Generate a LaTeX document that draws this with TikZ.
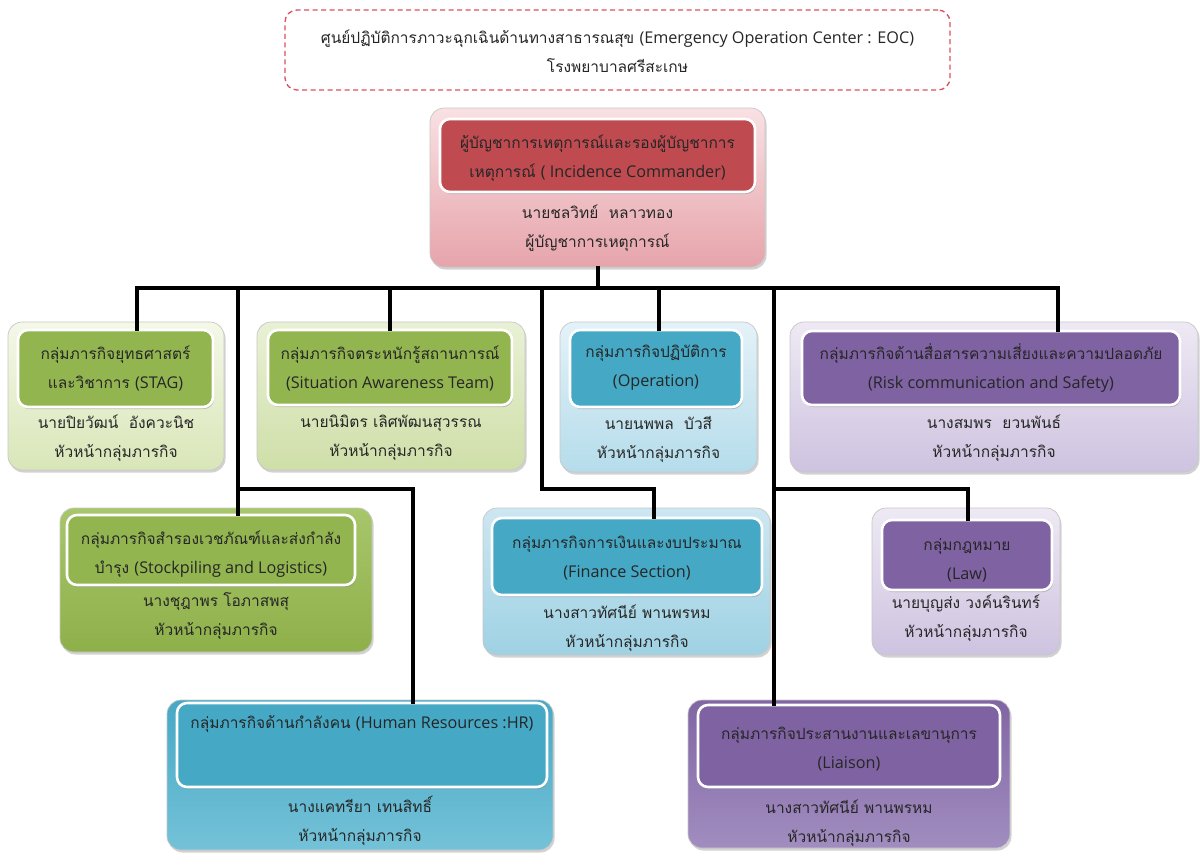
\documentclass[tikz,border=0pt]{standalone}
\usepackage{fontspec}
\setmainfont{Loma}[Script=Thai]
\newfontfamily\enfont{Open Sans}
\newcommand\engtxt[1]{{\enfont\fontsize{16.2pt}{29pt}\selectfont #1}}
\usetikzlibrary{shadows}

% fills of the group boxes
\definecolor{redIn}{HTML}{BF4B50}
\definecolor{redTop}{HTML}{F9E1E3}
\definecolor{redBot}{HTML}{E6A4AB}
\definecolor{grnIn}{HTML}{93B550}
\definecolor{grnPaleTop}{HTML}{F4F8E8}
\definecolor{grnPaleBot}{HTML}{D9E6B8}
\definecolor{grnTop}{HTML}{A8C66A}
\definecolor{grnBot}{HTML}{8EB04A}
\definecolor{bluIn}{HTML}{45A8C5}
\definecolor{bluPaleTop}{HTML}{E4F2F8}
\definecolor{bluPaleBot}{HTML}{B5DCEB}
\definecolor{bluTop}{HTML}{47A8C5}
\definecolor{bluBot}{HTML}{74C2D8}
\definecolor{prpIn}{HTML}{7F62A1}
\definecolor{prpPaleTop}{HTML}{EEE9F4}
\definecolor{prpPaleBot}{HTML}{CEC3E0}
\definecolor{prpTop}{HTML}{8165A4}
\definecolor{prpBot}{HTML}{A18DBF}
\definecolor{dashRed}{HTML}{D9505F}

\begin{document}
\begin{tikzpicture}[x=1pt,y=-1pt,
  font=\fontsize{15.5pt}{29pt}\selectfont,
  obox/.style={rounded corners=14pt, draw=black!22, line width=0.7pt, inner sep=0pt,
    drop shadow={shadow xshift=1.5pt, shadow yshift=-2.5pt, opacity=0.35}},
  ibox/.style={rounded corners=10pt, draw=white, line width=2.6pt, inner sep=0pt,
    drop shadow={shadow xshift=1pt, shadow yshift=-2pt, opacity=0.45}},
  txt/.style={align=center, text=black!85, inner sep=0pt},
  wire/.style={line width=3.6pt, line cap=rect},
  titlebox/.style={rounded corners=12pt, draw=dashRed, line width=1.3pt,
    dash pattern=on 5pt off 3.5pt, inner sep=0pt}
]
\useasboundingbox[fill=white] (0,0) rectangle (1200,852);

% heading
\node[titlebox, minimum width=665pt, minimum height=80pt] (title) at (617.5,50) {};
\node[txt] (titleT) at (617.5,51) {ศูนย์ปฏิบัติการภาวะฉุกเฉินด้านทางสาธารณสุข \engtxt{(Emergency Operation Center : EOC)}\\โรงพยาบาลศรีสะเกษ};

% commander
\node[obox, top color=redTop, bottom color=redBot, minimum width=335pt, minimum height=159pt] (cmd) at (597.5,187.5) {};
\node[ibox, fill=redIn, minimum width=315pt, minimum height=73pt] (cmdT) at (597.5,155.5) {};
\node[txt] (cmdL) at (597.5,158) {ผู้บัญชาการเหตุการณ์และรองผู้บัญชาการ\\เหตุการณ์ \engtxt{( Incidence Commander)}};
\node[txt] (cmdN) at (597.5,228) {นายชลวิทย์~~หลาวทอง\\ผู้บัญชาการเหตุการณ์};

% STAG
\node[obox, top color=grnPaleTop, bottom color=grnPaleBot, minimum width=216pt, minimum height=148pt] (stag) at (116,396) {};
\node[ibox, fill=grnIn, minimum width=195pt, minimum height=77pt] (stagT) at (115.5,368.5) {};
\node[txt] (stagL) at (115.5,368) {กลุ่มภารกิจยุทธศาสตร์\\และวิชาการ \engtxt{(STAG)}};
\node[txt] (stagN) at (116,438) {นายปิยวัฒน์~~อังควะนิช\\หัวหน้ากลุ่มภารกิจ};

% situation awareness
\node[obox, top color=grnPaleTop!60!grnPaleBot, bottom color=grnPaleBot!85!grnIn, minimum width=268pt, minimum height=148pt] (sit) at (391,396) {};
\node[ibox, fill=grnIn, minimum width=244pt, minimum height=75pt] (sitT) at (390,367.5) {};
\node[txt] (sitL) at (390,368) {กลุ่มภารกิจตระหนักรู้สถานการณ์\\\engtxt{(Situation Awareness Team)}};
\node[txt] (sitN) at (391,438) {นายนิมิตร เลิศพัฒนสุวรรณ\\หัวหน้ากลุ่มภารกิจ};

% operation
\node[obox, top color=bluPaleTop, bottom color=bluPaleBot, minimum width=197pt, minimum height=150pt] (op) at (658.5,397) {};
\node[ibox, fill=bluIn, minimum width=172pt, minimum height=77pt] (opT) at (656,368.5) {};
\node[txt] (opL) at (656,368) {กลุ่มภารกิจปฏิบัติการ\\\engtxt{(Operation)}};
\node[txt] (opN) at (658.5,439) {นายนพพล~~บัวสี\\หัวหน้ากลุ่มภารกิจ};

% risk communication
\node[obox, top color=prpPaleTop, bottom color=prpPaleBot, minimum width=408pt, minimum height=150pt] (risk) at (994,397) {};
\node[ibox, fill=prpIn, minimum width=378pt, minimum height=74pt] (riskT) at (991,368) {};
\node[txt] (riskL) at (991,368) {กลุ่มภารกิจด้านสื่อสารความเสี่ยงและความปลอดภัย\\\engtxt{(Risk communication and Safety)}};
\node[txt] (riskN) at (994,438) {นางสมพร~~ยวนพันธ์\\หัวหน้ากลุ่มภารกิจ};

% stockpiling
\node[obox, top color=grnTop, bottom color=grnBot, minimum width=312pt, minimum height=144pt] (stock) at (216,580) {};
\node[ibox, fill=grnIn, minimum width=288pt, minimum height=70pt] (stockT) at (211,550) {};
\node[txt] (stockL) at (211,554) {กลุ่มภารกิจสำรองเวชภัณฑ์และส่งกำลัง\\บำรุง \engtxt{(Stockpiling and Logistics)}};
\node[txt] (stockN) at (216,616) {นางชุฎาพร โอภาสพสุ\\หัวหน้ากลุ่มภารกิจ};

% finance
\node[obox, top color=bluPaleTop!50!bluPaleBot, bottom color=bluPaleBot!80!bluIn, minimum width=287pt, minimum height=147pt] (fin) at (626.5,581.5) {};
\node[ibox, fill=bluIn, minimum width=270pt, minimum height=77pt] (finT) at (627,556.5) {};
\node[txt] (finL) at (627,558) {กลุ่มภารกิจการเงินและงบประมาณ\\\engtxt{(Finance Section)}};
\node[txt] (finN) at (627,628) {นางสาวทัศนีย์ พานพรหม\\หัวหน้ากลุ่มภารกิจ};

% law
\node[obox, top color=prpPaleTop, bottom color=prpPaleBot, minimum width=188pt, minimum height=147pt] (law) at (966,581.5) {};
\node[ibox, fill=prpIn, minimum width=170pt, minimum height=70pt] (lawT) at (967,555) {};
\node[txt] (lawL) at (967,560) {กลุ่มกฎหมาย\\\engtxt{(Law)}};
\node[txt] (lawN) at (966,618) {นายบุญส่ง วงค์นรินทร์\\หัวหน้ากลุ่มภารกิจ};

% human resources
\node[obox, top color=bluTop, bottom color=bluBot, minimum width=386pt, minimum height=150pt] (hr) at (360,775) {};
\node[ibox, fill=bluIn, minimum width=370pt, minimum height=84pt] (hrT) at (362,745) {};
\node[txt] (hrL) at (362,724) {กลุ่มภารกิจด้านกำลังคน \engtxt{(Human Resources :HR)}};
\node[txt] (hrN) at (360,821) {นางแคทรียา เทนสิทธิ์\\หัวหน้ากลุ่มภารกิจ};

% liaison
\node[obox, top color=prpTop, bottom color=prpBot, minimum width=322pt, minimum height=148pt] (lia) at (849,774) {};
\node[ibox, fill=prpIn, minimum width=302pt, minimum height=82pt] (liaT) at (849,746) {};
\node[txt] (liaL) at (849,749) {กลุ่มภารกิจประสานงานและเลขานุการ\\\engtxt{(Liaison)}};
\node[txt] (liaN) at (849,823) {นางสาวทัศนีย์ พานพรหม\\หัวหน้ากลุ่มภารกิจ};

% junction points of the wiring
\coordinate (busC) at (598,288);
\coordinate (jStag) at (137,288);
\coordinate (jStock) at (238,288);
\coordinate (jSit) at (390,288);
\coordinate (jFin) at (542,288);
\coordinate (jOp) at (659,288);
\coordinate (jLia) at (774,288);
\coordinate (jRisk) at (1058,288);
\coordinate (kStock) at (238,489);
\coordinate (kHr) at (413,489);
\coordinate (kFinA) at (542,489);
\coordinate (kFinB) at (654,489);
\coordinate (kLia) at (774,489);
\coordinate (kLaw) at (968,489);

% wiring
\draw[wire] (cmd.south -| busC) -- (busC);
\draw[wire] (jStag) -- (jRisk);
\draw[wire] (jStag) -- (stagT.north -| jStag);
\draw[wire] (jStock) -- (stockT.north -| jStock);
\draw[wire] (kStock) -- (kHr) -- (hrT.north -| kHr);
\draw[wire] (jSit) -- (sitT.north -| jSit);
\draw[wire] (jFin) -- (kFinA) -- (kFinB) -- (finT.north -| kFinB);
\draw[wire] (jOp) -- (opT.north -| jOp);
\draw[wire] (jLia) -- (liaT.north -| jLia);
\draw[wire] (kLia) -- (kLaw) -- (lawT.north -| kLaw);
\draw[wire] (jRisk) -- (riskT.north -| jRisk);
\end{tikzpicture}
\end{document}
